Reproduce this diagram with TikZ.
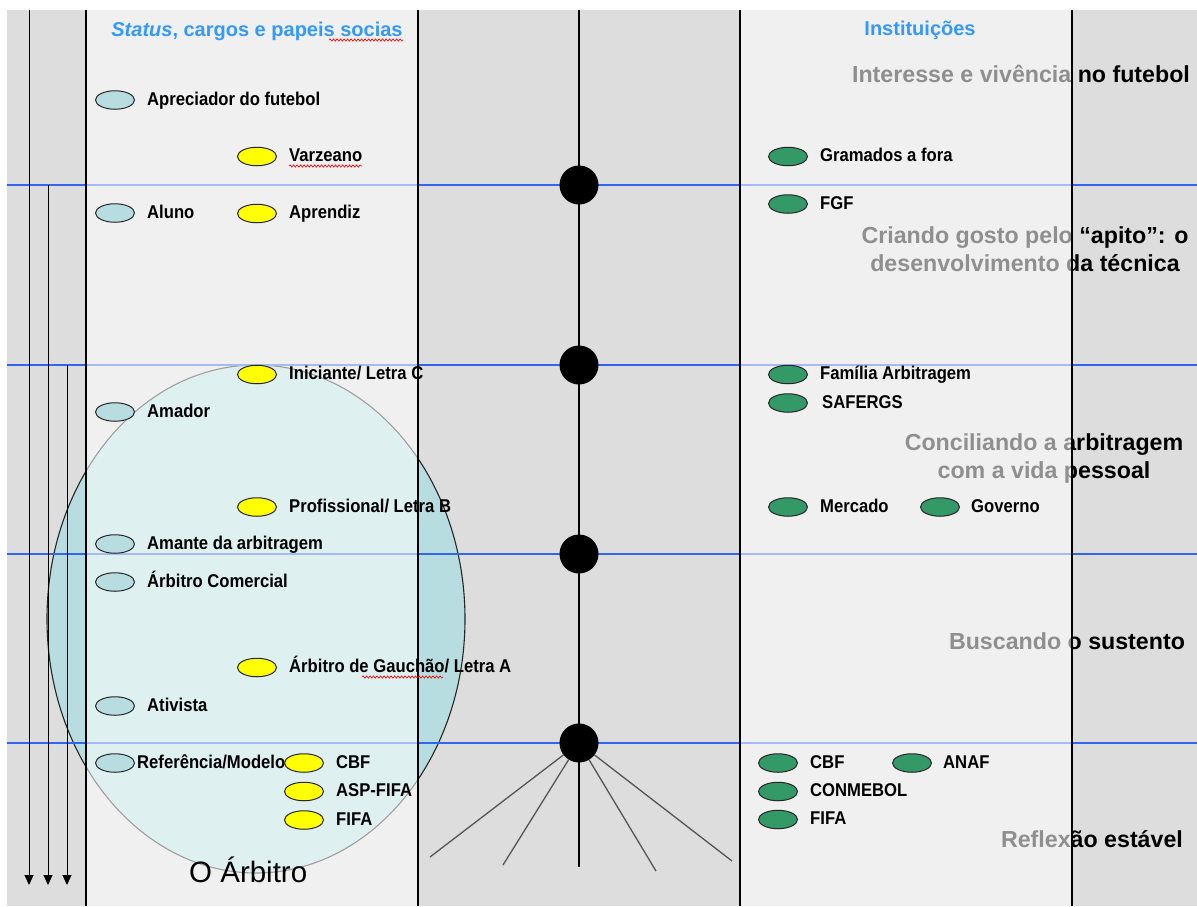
\documentclass[tikz,border=0pt]{standalone}
\usepackage{fontspec}
\setmainfont{Liberation Sans}
\newfontfamily\lblfont[FakeStretch=0.9]{Liberation Sans}
\usetikzlibrary{shapes.geometric,arrows.meta,decorations.pathmorphing}

\definecolor{colgrey}{HTML}{DDDDDD}
\definecolor{rowblue}{HTML}{3366EE}
\definecolor{headblue}{HTML}{3399FF}
\definecolor{roleblue}{HTML}{B8DDE0}
\definecolor{roleyellow}{HTML}{FFFF00}
\definecolor{instgreen}{HTML}{339966}
\definecolor{spokegrey}{HTML}{555555}

\tikzset{
  marker/.style={ellipse, draw=black!85, line width=1pt, minimum width=39pt,
                 minimum height=18.5pt, inner sep=0pt},
  rolemark/.style={marker, fill=roleblue},
  stepmark/.style={marker, fill=roleyellow},
  instmark/.style={marker, fill=instgreen},
  lbl/.style={anchor=base west, inner sep=0pt,
              font=\lblfont\fontsize{18.5pt}{20pt}\selectfont\bfseries},
  phase/.style={anchor=base, inner sep=0pt,
                font=\fontsize{23.2pt}{25pt}\selectfont\bfseries},
  head/.style={anchor=base, inner sep=0pt, text=headblue,
               font=\fontsize{20pt}{22pt}\selectfont\bfseries},
  rowline/.style={rowblue, line width=1.4pt},
  colline/.style={black, line width=1.2pt},
  timearrow/.style={black, line width=1pt, -{Triangle[length=10pt,width=9pt]}},
  spoke/.style={spokegrey, line width=1.3pt},
  spell/.style={red, line width=0.6pt, decorate,
                decoration={snake, amplitude=1.2pt, segment length=3.5pt}},
}

\begin{document}
\begin{tikzpicture}[x=1pt,y=-1pt]
\useasboundingbox (0,0) rectangle (1197,906);

% base: grey sheet
\fill[colgrey] (7,10) rectangle (1197,906);

% the referee's circle of roles
\draw[fill=roleblue, draw=black!85, line width=1.1pt]
  (256,619) ellipse [x radius=209pt, y radius=254pt];

% horizontal phase separators
\foreach \y in {185,365,554,743}
  \draw[rowline] (7,\y) -- (1197,\y);

% phase titles
\node[phase] (ph1)  at (1021,82)  {Interesse e vivência no futebol};
\node[phase] (ph2a) at (1025,243) {Criando gosto pelo “apito”: o};
\node[phase] (ph2b) at (1025,271) {desenvolvimento da técnica};
\node[phase] (ph3a) at (1044,450) {Conciliando a arbitragem};
\node[phase] (ph3b) at (1044,478) {com a vida pessoal};
\node[phase] (ph4)  at (1067,649) {Buscando o sustento};
\node[phase] (ph5)  at (1092,847) {Reflexão estável};

% light translucent columns
\fill[white, fill opacity=0.56] (86,10) rectangle (418,906);
\fill[white, fill opacity=0.56] (740,10) rectangle (1072,906);

% column borders
\foreach \x in {86,418,740,1072}
  \draw[colline] (\x,10) -- (\x,906);

% time arrows
\coordinate (a1s) at (29,10);  \coordinate (a1e) at (29,885);
\coordinate (a2s) at (48,185); \coordinate (a2e) at (48,885);
\coordinate (a3s) at (67,365); \coordinate (a3e) at (67,885);
\draw[timearrow] (a1s) -- (a1e);
\draw[timearrow] (a2s) -- (a2e);
\draw[timearrow] (a3s) -- (a3e);

% career axis with milestones
\coordinate (axtop) at (579,10);
\coordinate (axbot) at (579,867);
\draw[black, line width=1.5pt] (axtop) -- (axbot);
\foreach \n/\y in {m1/185, m2/365, m3/554, m4/743}
  \node[circle, fill=black, minimum size=39pt, inner sep=0pt] (\n) at (579,\y) {};

% fan of paths after the last milestone
\coordinate (f1) at (430,857);
\coordinate (f2) at (503,865);
\coordinate (f4) at (656,871);
\coordinate (f5) at (732,861);
\foreach \f in {f1,f2,f4,f5}
  \draw[spoke] (m4) -- (\f);

% column headers
\node[head] (hL) at (257,36) {\textit{Status}, cargos e papeis socias};
\node[head] (hR) at (920,35) {Instituições};
\draw[spell] (329,40) -- (403,40);

% status and social roles
\node[rolemark] (r1) at (115,100) {};
\node[lbl] at (147,105) {Apreciador do futebol};
\node[rolemark] (r2) at (115,213) {};
\node[lbl] at (147,218) {Aluno};
\node[rolemark] (r3) at (115,412) {};
\node[lbl] at (147,417) {Amador};
\node[rolemark] (r4) at (115,544) {};
\node[lbl] at (147,549) {Amante da arbitragem};
\node[rolemark] (r5) at (115,582) {};
\node[lbl] at (147,587) {Árbitro Comercial};
\node[rolemark] (r6) at (115,706) {};
\node[lbl] at (147,711) {Ativista};
\node[rolemark] (r7) at (115,763) {};
\node[lbl] at (137,768) {Referência/Modelo};

% referee grades
\node[stepmark] (s1) at (257,156.5) {};
\node[lbl] at (289,161.5) {Varzeano};
\draw[spell] (289,166) -- (362,166);
\node[stepmark] (s2) at (257,213.5) {};
\node[lbl] at (289,218.5) {Aprendiz};
\node[stepmark] (s3) at (257,374.5) {};
\node[lbl] at (289,379.5) {Iniciante/ Letra C};
\node[stepmark] (s4) at (257,507) {};
\node[lbl] at (289,512) {Profissional/ Letra B};
\node[stepmark] (s5) at (257,667.5) {};
\node[lbl] at (289,672.5) {Árbitro de Gauchão/ Letra A};
\draw[spell] (362,677) -- (443,677);
\node[stepmark] (s6) at (304,763) {};
\node[lbl] at (336,768) {CBF};
\node[stepmark] (s7) at (304,791.5) {};
\node[lbl] at (336,796.5) {ASP-FIFA};
\node[stepmark] (s8) at (304,820) {};
\node[lbl] at (336,825) {FIFA};

% institutions
\node[instmark] (i1) at (788,156.5) {};
\node[lbl] at (820,161.5) {Gramados a fora};
\node[instmark] (i2) at (788,204) {};
\node[lbl] at (820,209) {FGF};
\node[instmark] (i3) at (788,374.5) {};
\node[lbl] at (820,379.5) {Família Arbitragem};
\node[instmark] (i4) at (788,403) {};
\node[lbl] at (822,408) {SAFERGS};
\node[instmark] (i5) at (788,507) {};
\node[lbl] at (820,512) {Mercado};
\node[instmark] (i6) at (940,507) {};
\node[lbl] at (971,512) {Governo};
\node[instmark] (i7) at (778,763) {};
\node[lbl] at (810,768) {CBF};
\node[instmark] (i8) at (912,763) {};
\node[lbl] at (943,768) {ANAF};
\node[instmark] (i9) at (778,791.5) {};
\node[lbl] at (810,796.5) {CONMEBOL};
\node[instmark] (i10) at (778,819.5) {};
\node[lbl] at (810,824.5) {FIFA};

% title of the circle
\node[anchor=base west, inner sep=0pt, font=\fontsize{29.5pt}{31pt}\selectfont]
  (title) at (189,882) {O Árbitro};
\end{tikzpicture}
\end{document}
